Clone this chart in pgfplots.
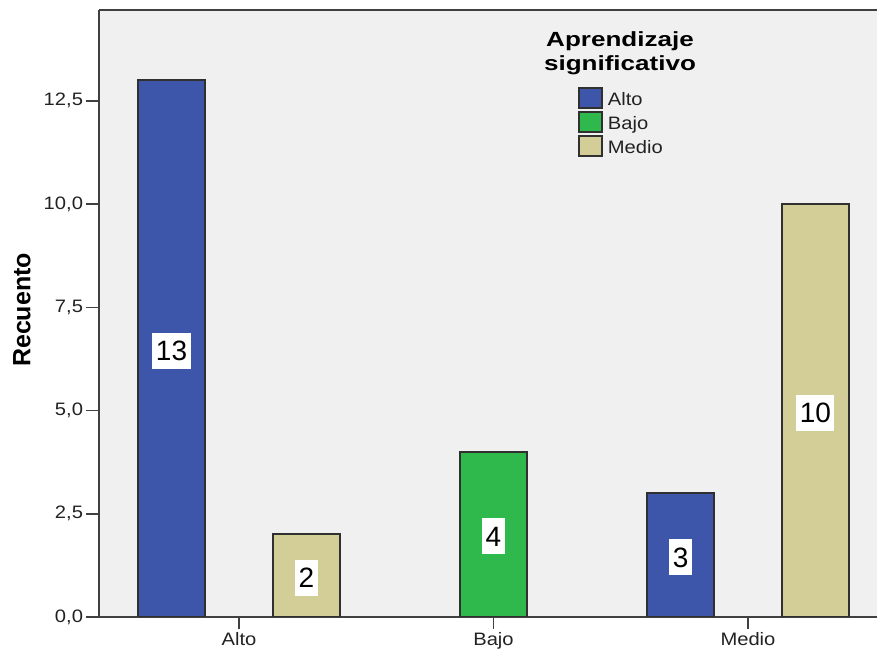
\documentclass[border=0pt]{standalone}
\usepackage{pgfplots}
\pgfplotsset{compat=1.18}
\usepackage{fontspec}
\setmainfont{Liberation Sans}
\newfontfamily\regf{Liberation Sans}[FakeStretch=1.12]
\newfontfamily\titf{Liberation Sans}[FakeStretch=1.27]
\definecolor{bg}{HTML}{F0F0F0}
\definecolor{cA}{HTML}{3D56A9}
\definecolor{cB}{HTML}{2FB84B}
\definecolor{cM}{HTML}{D3CE97}
\definecolor{edge}{HTML}{303030}
\definecolor{axc}{HTML}{404040}
\definecolor{tickc}{HTML}{222222}
\begin{document}
\begin{tikzpicture}
\useasboundingbox (-98.5pt,-35pt) rectangle (778.5pt,617pt);
\begin{axis}[
  at={(0,0)}, anchor=south west,
  scale only axis, width=778.5pt, height=607pt,
  xmin=-0.552, xmax=2.507, ymin=0, ymax=14.7,
  axis background/.style={fill=bg},
  axis x line=box, axis y line=left,
  axis line style={draw=axc, line width=2pt, -},
  x axis line style={-}, y axis line style={-},
  tick style={draw=axc, line width=1.6pt},
  major tick length=12pt, tick align=outside,
  xtick pos=left, ytick pos=left,
  xtick={0,1,2}, xticklabels={Alto,Bajo,Medio},
  ytick={0,2.5,5,7.5,10,12.5},
  minor tick num=0,
  /pgf/number format/assume math mode=true,
  /pgf/number format/fixed,
  /pgf/number format/fixed zerofill,
  /pgf/number format/precision=1,
  /pgf/number format/use comma,
  ticklabel style={font=\regf\fontsize{18}{21}\selectfont, text=tickc},
  legend style={at={(0.6155,0.873)}, anchor=north west, draw=none, fill=none,
    inner sep=0pt, row sep=2pt, column sep=0pt,
    font=\regf\fontsize{18}{21}\selectfont, text=tickc,
    nodes={inner xsep=5pt, inner ysep=0pt}},
  legend cell align=left,
  mybar/.style={ybar, bar width=0.265, bar shift=0pt, draw=edge, line width=2pt,
    legend image code/.code={\draw[##1, line width=2pt] (0pt,-9pt) rectangle (23pt,11pt);}},
]
\addplot[mybar, fill=cA] coordinates {(-0.265,13) (1.735,3)};
\addlegendentry{Alto}
\addplot[mybar, fill=cB] coordinates {(1,4)};
\addlegendentry{Bajo}
\addplot[mybar, fill=cM] coordinates {(0.265,2) (2.265,10)};
\addlegendentry{Medio}
\addplot[draw=none, mark=none, forget plot, nodes near coords,
  point meta=explicit symbolic,
  nodes near coords style={fill=white, inner xsep=3.5pt, inner ysep=8pt,
    text height=20pt, text depth=0pt, anchor=center, yshift=-2pt,
    font=\fontsize{28}{32}\selectfont, text=black}]
  coordinates {(-0.265,6.5)[13] (0.265,1)[2] (1,2)[4] (1.735,1.5)[3] (2.265,5)[10]};
\end{axis}
\node[font=\titf\bfseries\fontsize{20.5}{24}\selectfont, align=center] at (521.5pt,564pt) {Aprendizaje\\significativo};
\node[rotate=90, font=\bfseries\fontsize{25}{30}\selectfont] at (-76.5pt,307pt) {Recuento};
\end{tikzpicture}
\end{document}
